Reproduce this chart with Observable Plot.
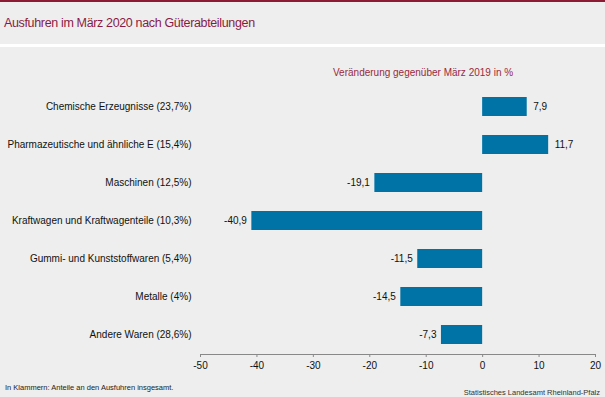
<!DOCTYPE html>
<html>
<head>
<meta charset="utf-8">
<script src="https://cdn.jsdelivr.net/npm/d3@7"></script>
<script src="https://cdn.jsdelivr.net/npm/@observablehq/plot@0.6"></script>
<style>
  html, body { margin: 0; padding: 0; }
  body { width: 605px; height: 397px; background: #edeeed; position: relative; overflow: hidden;
         font-family: "Liberation Sans", Arial, sans-serif; }
  #topbar { position: absolute; left: 0; top: 0; width: 605px; height: 2px; background: #8c1c34; }
  #title { position: absolute; left: 4px; top: 16px; font-size: 12.5px; color: #8a1a45; letter-spacing: -0.35px; }
  #sep { position: absolute; left: 0; top: 44px; width: 605px; height: 3px; background: #ffffff; }
  #subtitle { position: absolute; left: 333px; top: 67px; font-size: 10px; color: #9a2a40; }
  #chart { position: absolute; left: 0; top: 48px; }
  #note { position: absolute; left: 5px; top: 383px; font-size: 7.5px; color: #222; }
  #source { position: absolute; right: 5px; top: 388px; font-size: 7.5px; color: #333; }
</style>
</head>
<body>
<div id="topbar"></div>
<div id="title">Ausfuhren im März 2020 nach Güterabteilungen</div>
<div id="sep"></div>
<div id="subtitle">Veränderung gegenüber März 2019 in %</div>
<div id="chart"></div>
<div id="note">In Klammern: Anteile an den Ausfuhren insgesamt.</div>
<div id="source">Statistisches Landesamt Rheinland-Pfalz</div>
<script>
const categories = [
  "Chemische Erzeugnisse (23,7%)",
  "Pharmazeutische und ähnliche E (15,4%)",
  "Maschinen (12,5%)",
  "Kraftwagen und Kraftwagenteile (10,3%)",
  "Gummi- und Kunststoffwaren (5,4%)",
  "Metalle (4%)",
  "Andere Waren (28,6%)"
];
const values = [7.9, 11.7, -19.1, -40.9, -11.5, -14.5, -7.3];
const valueLabels = ["7,9", "11,7", "-19,1", "-40,9", "-11,5", "-14,5", "-7,3"];
const xTicks = [-50, -40, -30, -20, -10, 0, 10, 20];
const xTickLabels = ["-50", "-40", "-30", "-20", "-10", "0", "10", "20"];

const data = categories.map((c, i) => ({cat: c, v: values[i], lab: valueLabels[i]}));

const chart = Plot.plot({
  width: 605,
  height: 330,
  marginLeft: 200,
  marginRight: 10,
  marginTop: 39,
  marginBottom: 24,
  style: {background: "transparent", fontFamily: "Liberation Sans, Arial, sans-serif", fontSize: "10px", color: "#111"},
  x: {domain: [-50, 20]},
  y: {domain: categories, paddingInner: 0.5, paddingOuter: 0.25},
  marks: [
    Plot.barX(data, {x: "v", y: "cat", fill: "#0073a6"}),
    Plot.text(data.filter(d => d.v >= 0), {x: "v", y: "cat", text: "lab", textAnchor: "start", dx: 6, fill: "#111", fontSize: 10}),
    Plot.text(data.filter(d => d.v < 0), {x: "v", y: "cat", text: "lab", textAnchor: "end", dx: -5, fill: "#111", fontSize: 10}),
    Plot.axisY({tickSize: 0, tickPadding: 9, label: null, fontSize: 10}),
    Plot.axisX({ticks: xTicks, tickSize: 3, tickPadding: 4, label: null, stroke: "#888", fill: "#111", fontSize: 10,
                tickFormat: d => xTickLabels[xTicks.indexOf(d)]}),
    Plot.frame({anchor: "bottom", stroke: "#888"})
  ]
});
document.getElementById("chart").appendChild(chart);
</script>
</body>
</html>
